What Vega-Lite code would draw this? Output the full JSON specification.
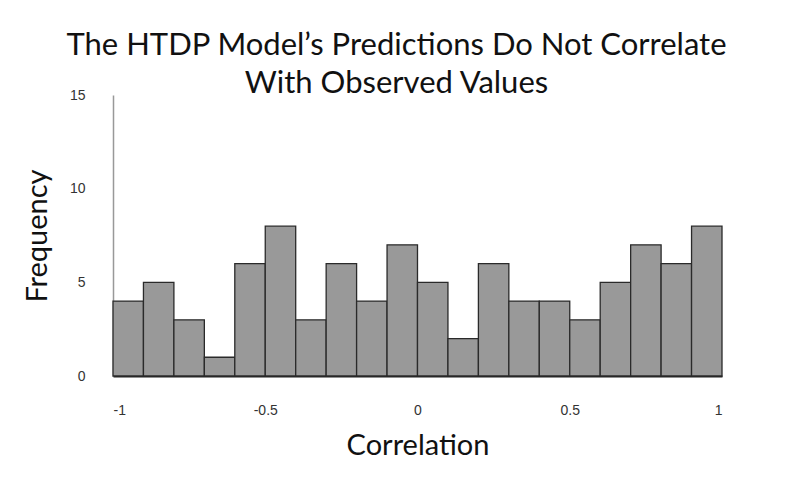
{
  "$schema": "https://vega.github.io/schema/vega-lite/v6.json",
  "width": 609,
  "height": 281,
  "autosize": {"type": "none"},
  "padding": {"left": 113, "top": 95, "right": 78, "bottom": 116},
  "background": "white",
  "title": {
    "text": ["The HTDP Model’s Predictions Do Not Correlate", "With Observed Values"],
    "font": "Lato",
    "fontSize": 31,
    "fontWeight": "normal",
    "color": "#111",
    "lineHeight": 38,
    "anchor": "middle",
    "dx": -21,
    "offset": -12
  },
  "data": {
    "values": [
      {"bin_start": -1.0, "bin_end": -0.9, "count": 4},
      {"bin_start": -0.9, "bin_end": -0.8, "count": 5},
      {"bin_start": -0.8, "bin_end": -0.7, "count": 3},
      {"bin_start": -0.7, "bin_end": -0.6, "count": 1},
      {"bin_start": -0.6, "bin_end": -0.5, "count": 6},
      {"bin_start": -0.5, "bin_end": -0.4, "count": 8},
      {"bin_start": -0.4, "bin_end": -0.3, "count": 3},
      {"bin_start": -0.3, "bin_end": -0.2, "count": 6},
      {"bin_start": -0.2, "bin_end": -0.1, "count": 4},
      {"bin_start": -0.1, "bin_end": 0.0, "count": 7},
      {"bin_start": 0.0, "bin_end": 0.1, "count": 5},
      {"bin_start": 0.1, "bin_end": 0.2, "count": 2},
      {"bin_start": 0.2, "bin_end": 0.3, "count": 6},
      {"bin_start": 0.3, "bin_end": 0.4, "count": 4},
      {"bin_start": 0.4, "bin_end": 0.5, "count": 4},
      {"bin_start": 0.5, "bin_end": 0.6, "count": 3},
      {"bin_start": 0.6, "bin_end": 0.7, "count": 5},
      {"bin_start": 0.7, "bin_end": 0.8, "count": 7},
      {"bin_start": 0.8, "bin_end": 0.9, "count": 6},
      {"bin_start": 0.9, "bin_end": 1.0, "count": 8}
    ]
  },
  "mark": {"type": "bar", "fill": "#999999", "stroke": "#2a2a2a", "strokeWidth": 1.3},
  "encoding": {
    "x": {
      "field": "bin_start",
      "type": "quantitative",
      "scale": {"domain": [-1, 1], "nice": false},
      "axis": {
        "title": "Correlation",
        "values": [-1, -0.5, 0, 0.5, 1],
        "labelExpr": "replace(format(datum.value, '~g'), '−', '-')",
        "grid": false,
        "ticks": false,
        "domain": true,
        "domainColor": "#222",
        "domainWidth": 2,
        "labelFont": "Liberation Sans",
        "labelFontSize": 14,
        "labelColor": "#333",
        "labelPadding": 27,
        "titleFont": "Lato",
        "titleFontSize": 29,
        "titleFontWeight": "normal",
        "titleColor": "#111",
        "titlePadding": 14
      }
    },
    "x2": {"field": "bin_end"},
    "y": {
      "field": "count",
      "type": "quantitative",
      "scale": {"domain": [0, 15], "nice": false},
      "axis": {
        "title": "Frequency",
        "values": [0, 5, 10, 15],
        "grid": false,
        "ticks": false,
        "domainColor": "#999",
        "domainWidth": 1.5,
        "labelFont": "Liberation Sans",
        "labelFontSize": 14,
        "labelColor": "#333",
        "labelPadding": 28,
        "titleFont": "Lato",
        "titleFontSize": 29,
        "titleFontWeight": "normal",
        "titleColor": "#111",
        "titlePadding": 17
      }
    },
    "y2": {"datum": 0}
  },
  "config": {"view": {"stroke": null}}
}
